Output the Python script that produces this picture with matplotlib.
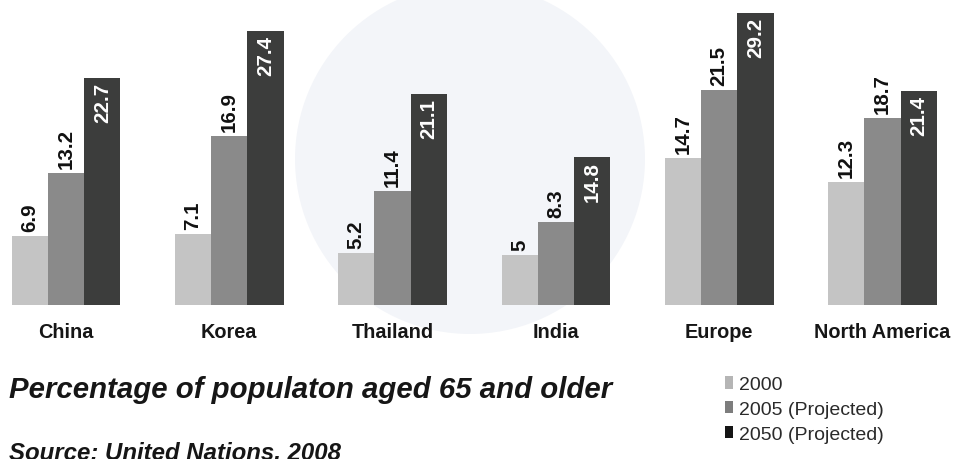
import matplotlib
matplotlib.use("Agg")
import matplotlib.pyplot as plt
from matplotlib.patches import Ellipse
import numpy as np

categories = ["China", "Korea", "Thailand", "India", "Europe", "North America"]
series_names = ["2000", "2005 (Projected)", "2050 (Projected)"]
values_2000 = [6.9, 7.1, 5.2, 5, 14.7, 12.3]
values_2005 = [13.2, 16.9, 11.4, 8.3, 21.5, 18.7]
values_2050 = [22.7, 27.4, 21.1, 14.8, 29.2, 21.4]
value_labels_2000 = ["6.9", "7.1", "5.2", "5", "14.7", "12.3"]
value_labels_2005 = ["13.2", "16.9", "11.4", "8.3", "21.5", "18.7"]
value_labels_2050 = ["22.7", "27.4", "21.1", "14.8", "29.2", "21.4"]

colors = ["#c4c4c4", "#8a8a8a", "#3c3d3c"]
label_colors = ["#111111", "#111111", "white"]

sans = ["Liberation Sans", "DejaVu Sans"]

fig = plt.figure(figsize=(9.54, 4.6), dpi=100)
fig.patch.set_facecolor("white")

# pale backdrop emblem, kept behind everything
fig.patches.append(Ellipse((470 / 954, 1 - 160 / 460), 350 / 954, 350 / 460,
                           transform=fig.transFigure, facecolor="#f3f5f9",
                           edgecolor="none", zorder=-10))

ax = fig.add_axes([0.0, 0.3348, 1.0, 0.6652])
ax.set_zorder(1)
ax.patch.set_alpha(0)

x = np.arange(len(categories))
width = 0.222
series = [values_2000, values_2005, values_2050]
labels = [value_labels_2000, value_labels_2005, value_labels_2050]
containers = []
for k, (vals, labs) in enumerate(zip(series, labels)):
    pos = x + (k - 1) * width
    bars = ax.bar(pos, vals, width=width, color=colors[k], edgecolor="none",
                  label=series_names[k])
    containers.append(bars)
    for xp, v, t in zip(pos, vals, labs):
        if k < 2:
            ax.annotate(t, (xp, v), xytext=(0, 3.5), textcoords="offset points",
                        rotation=90, ha="center", va="bottom",
                        fontsize=14.8, fontweight="bold", family=sans,
                        color=label_colors[k])
        else:
            ax.annotate(t, (xp, v), xytext=(0, -3), textcoords="offset points",
                        rotation=90, ha="center", va="top",
                        fontsize=14.8, fontweight="bold", family=sans,
                        color=label_colors[k])

ax.set_xlim(-66 / 163.3, (954 - 66) / 163.3)
ax.set_ylim(0, 30.6)
ax.axis("off")

# category names under each group
for xp, name in zip(x, categories):
    ax.annotate(name, (xp, 0), xytext=(0, -19), textcoords="offset points",
                ha="center", va="center", fontsize=14.3, fontweight="bold",
                family=sans, color="#161616")

fig.text(0.009, 0.135, "Percentage of populaton aged 65 and older",
         fontsize=21.2, fontweight="bold", style="italic", family=sans,
         color="#161616", ha="left", va="baseline")
fig.text(0.009, 0.002, "Source: United Nations, 2008",
         fontsize=17.3, fontweight="bold", style="italic", family=sans,
         color="#161616", ha="left", va="baseline")

leg = fig.legend(handles=containers, labels=series_names, loc="upper left",
                 bbox_to_anchor=(0.752, 0.197), frameon=False,
                 handlelength=0.42, handleheight=0.6, handletextpad=0.3,
                 labelspacing=0.4, borderaxespad=0,
                 prop={"family": sans, "size": 14})
leg_colors = ["#b5b5b5", "#7d7d7d", "#151515"]
for h, c in zip(leg.legend_handles, leg_colors):
    h.set_facecolor(c)
for t in leg.get_texts():
    t.set_color("#2a2a2a")

fig.savefig("out.png", dpi=100, facecolor="white")
